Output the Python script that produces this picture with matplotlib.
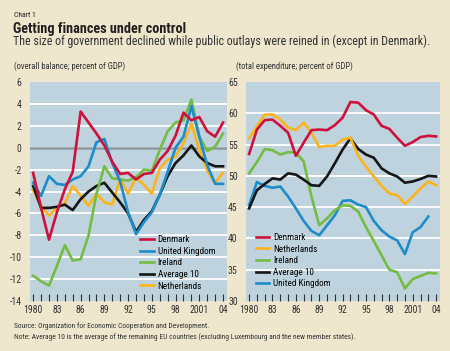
import matplotlib
matplotlib.use('Agg')
import matplotlib.pyplot as plt
from matplotlib import font_manager
import numpy as np

years = np.arange(1980, 2005)

# overall balance; percent of GDP
bal_denmark = [-2.3, -5.5, -8.4, -5.9, -3.8, -2.2, 3.3, 2.3, 1.3, 0.2, -1.3, -2.4, -2.3,
               -2.9, -2.4, -2.3, -1.1, -0.3, 1.1, 3.2, 2.5, 2.8, 1.5, 1.0, 2.3]
bal_uk = [-3.2, -4.4, -2.6, -3.3, -3.4, -2.9, -2.6, -1.7, 0.5, 0.8, -1.4, -3.1, -5.9,
          -7.9, -6.8, -5.9, -4.3, -2.2, 0.0, 1.0, 3.8, 1.0, -1.6, -3.3, -3.3]
bal_ireland = [-11.7, -12.2, -12.6, -10.8, -8.9, -10.3, -10.2, -8.0, -4.2, -1.7, -2.8, -2.9, -3.0,
               -2.7, -2.0, -2.1, -0.2, 1.5, 2.3, 2.5, 4.4, 1.0, -0.3, 0.1, 1.3]
bal_average10 = [-3.5, -5.5, -5.5, -5.4, -5.2, -5.7, -4.7, -4.0, -3.5, -3.2, -4.1, -5.0, -6.0,
                 -7.7, -6.6, -5.8, -4.3, -2.6, -1.4, -0.7, 0.2, -0.8, -1.4, -1.7, -1.7]
bal_netherlands = [-3.9, -5.3, -6.2, -5.5, -5.1, -3.5, -4.4, -5.3, -4.2, -5.0, -5.2, -2.8, -4.2,
                   -2.7, -3.4, -4.2, -1.9, -1.1, -0.8, 0.4, 2.2, -0.2, -2.1, -3.2, -2.3]

# total expenditure; percent of GDP
exp_denmark = [53.5, 57.4, 58.9, 59.0, 58.0, 56.9, 53.2, 55.3, 57.3, 57.4, 57.3, 58.1, 59.3,
               61.8, 61.7, 60.5, 59.8, 58.0, 57.5, 56.1, 54.8, 55.4, 56.2, 56.4, 56.3]
exp_netherlands = [56.0, 57.9, 59.8, 59.8, 59.0, 57.7, 57.3, 58.5, 56.9, 54.6, 54.8, 54.8, 55.8,
                   56.1, 53.2, 51.5, 49.9, 48.4, 47.2, 46.9, 45.5, 46.7, 48.0, 49.1, 48.5]
exp_ireland = [50.4, 52.2, 54.3, 54.1, 53.4, 53.8, 53.7, 52.3, 46.7, 42.1, 43.2, 44.5, 45.3,
               45.2, 44.3, 41.8, 39.6, 37.3, 35.0, 34.6, 32.0, 33.5, 34.0, 34.5, 34.4]
exp_average10 = [44.8, 47.7, 48.7, 49.6, 49.4, 50.4, 50.2, 49.4, 48.5, 48.4, 49.9, 52.0, 54.2,
                 56.0, 54.3, 53.4, 52.9, 51.2, 50.4, 49.9, 48.9, 49.1, 49.5, 50.0, 49.9]
exp_uk = [45.3, 49.0, 48.4, 48.1, 48.3, 46.7, 44.8, 42.8, 41.2, 40.5, 42.1, 43.7, 46.0,
          46.1, 45.4, 45.0, 42.8, 41.3, 40.3, 39.7, 37.5, 41.0, 41.8, 43.5]

tick_years = [1980, 1983, 1986, 1989, 1992, 1995, 1998, 2001, 2004]
tick_labels = ['1980', '83', '86', '89', '92', '95', '98', '2001', '04']


def pick_font(names):
    for name in names:
        try:
            font_manager.findfont(name, fallback_to_default=False)
            return name
        except ValueError:
            continue
    return 'DejaVu Sans'


font = pick_font(['Liberation Sans Narrow', 'Roboto Condensed', 'Liberation Sans'])
plt.rcParams['font.family'] = font

paper = '#EEE6CD'
panel = '#BED3DD'
ink = '#231F20'
red = '#CF103C'
blue = '#1D8CC8'
green = '#74BC44'
black = '#161616'
orange = '#FDB41A'

W, H = 450, 351
fig = plt.figure(figsize=(W / 100, H / 100), dpi=100, facecolor=paper)


def fx(px):
    return px / W


def fy(py):
    return 1 - py / H


fig.text(fx(14), fy(17), 'Chart 1', fontsize=5.5, color=ink)
fig.text(fx(13), fy(32.5), 'Getting finances under control', fontsize=10.3,
         fontweight='bold', color=ink)
fig.text(fx(13), fy(45.5), 'The size of government declined while public outlays were reined in (except in Denmark).',
         fontsize=8.6, color='#333333')
fig.text(fx(14), fy(68.5), '(overall balance; percent of GDP)', fontsize=6.2, color='#333333')
fig.text(fx(236), fy(68.5), '(total expenditure; percent of GDP)', fontsize=6.2, color='#333333')
fig.text(fx(14), fy(328.5), 'Source: Organization for Economic Cooperation and Development.',
         fontsize=5.4, color='#333333')
fig.text(fx(14), fy(339), 'Note: Average 10 is the average of the remaining EU countries '
         '(excluding Luxembourg and the new member states).', fontsize=5.4, color='#333333')

ax1 = fig.add_axes([fx(30), fy(301), fx(227) - fx(30), (301 - 82) / H])
ax2 = fig.add_axes([fx(246), fy(301), fx(440) - fx(246), (301 - 82) / H])

lw = 1.9
ax1.plot(years, bal_netherlands, color=orange, lw=lw, label='Netherlands', zorder=3)
ax1.plot(years, bal_average10, color=black, lw=lw, label='Average 10', zorder=4)
ax1.plot(years, bal_ireland, color=green, lw=lw, label='Ireland', zorder=5)
ax1.plot(years, bal_uk, color=blue, lw=lw, label='United Kingdom', zorder=6)
ax1.plot(years, bal_denmark, color=red, lw=lw, label='Denmark', zorder=7)

ax2.plot(years[:len(exp_uk)], exp_uk, color=blue, lw=lw, label='United Kingdom', zorder=3)
ax2.plot(years, exp_ireland, color=green, lw=lw, label='Ireland', zorder=4)
ax2.plot(years, exp_average10, color=black, lw=lw, label='Average 10', zorder=5)
ax2.plot(years, exp_netherlands, color=orange, lw=lw, label='Netherlands', zorder=6)
ax2.plot(years, exp_denmark, color=red, lw=lw, label='Denmark', zorder=7)

for ax, lo, hi, step in ((ax1, -14, 6, 2), (ax2, 30, 65, 5)):
    ax.set_facecolor(panel)
    ax.set_xlim(1979.6, 2004.5)
    ax.set_ylim(lo, hi)
    for s in ax.spines.values():
        s.set_visible(False)
    yt = np.arange(lo, hi + 1, step)
    ax.set_yticks(yt)
    ax.set_yticklabels([str(v) for v in yt])
    for v in yt[1:-1]:
        ax.axhline(v, color='white', lw=1.3, zorder=1)
    ax.set_xticks(tick_years)
    ax.set_xticklabels(tick_labels)
    ax.set_xticks(years, minor=True)
    ax.tick_params(axis='y', length=0, pad=6, labelsize=7, labelcolor='#333333')
    ax.tick_params(axis='x', which='both', direction='in', length=5, width=0.8,
                   color='#333333', pad=3, labelsize=7, labelcolor='#333333')

ax1.axhline(0, color='#8C989E', lw=1.8, zorder=2)

order1 = ['Denmark', 'United Kingdom', 'Ireland', 'Average 10', 'Netherlands']
h1, l1 = ax1.get_legend_handles_labels()
hd1 = dict(zip(l1, h1))
ax1.legend([hd1[k] for k in order1], order1, loc='upper left', bbox_to_anchor=(0.56, 0.30),
           frameon=False, fontsize=6.6, handlelength=1.5, handletextpad=0.4,
           labelspacing=0.28, borderaxespad=0, borderpad=0)

order2 = ['Denmark', 'Netherlands', 'Ireland', 'Average 10', 'United Kingdom']
h2, l2 = ax2.get_legend_handles_labels()
hd2 = dict(zip(l2, h2))
ax2.legend([hd2[k] for k in order2], order2, loc='upper left', bbox_to_anchor=(0.05, 0.31),
           frameon=False, fontsize=6.6, handlelength=1.5, handletextpad=0.4,
           labelspacing=0.28, borderaxespad=0, borderpad=0)

fig.savefig('out.png', dpi=100, facecolor=paper)
